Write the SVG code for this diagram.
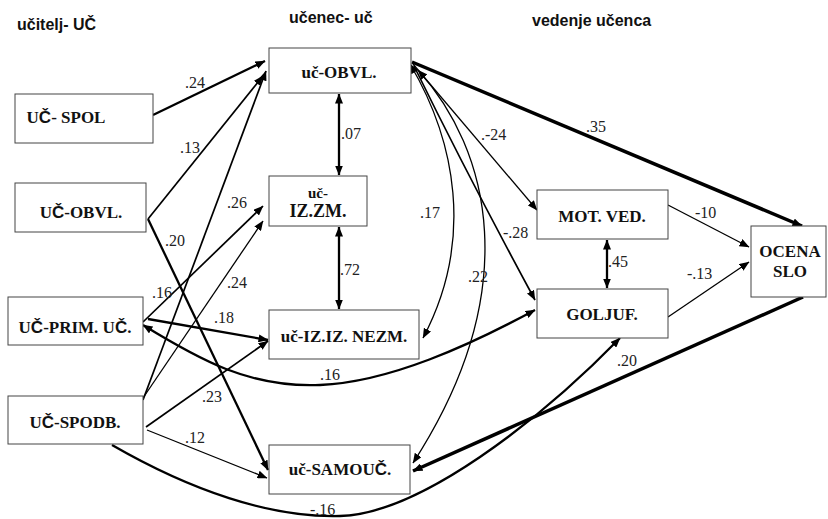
<svg xmlns="http://www.w3.org/2000/svg" width="828" height="519" viewBox="0 0 828 519">
<style>
.bg{fill:#fff}
.box{fill:#fff;stroke:#444;stroke-width:1}
.c{fill:none;stroke:#000;marker-end:url(#ah)}
.b{marker-start:url(#ah)}
.w1{stroke-width:1.3}
.w2{stroke-width:1.7}
.w3{stroke-width:2.3}
.w4{stroke-width:3.5}
</style>
<defs>
<marker id="ah" viewBox="0 0 10 8" refX="9.5" refY="4" markerWidth="10" markerHeight="8" markerUnits="userSpaceOnUse" orient="auto-start-reverse">
<path d="M0,0 L10,4 L0,8 z" fill="#000"/>
</marker>
</defs>
<rect class="bg" x="0" y="0" width="828" height="519"/>

<g id="headers" font-family="Liberation Sans" font-weight="bold" font-size="16" fill="#111">
<text x="17" y="30">učitelj- UČ</text>
<text x="289" y="23">učenec- uč</text>
<text x="532" y="26">vedenje učenca</text>
</g>

<g id="connectors">
<path class="c w3" d="M153,115 L265,61"/>
<path class="c w2" d="M148,219 L263,76"/>
<path class="c w3" d="M148,219 L268,470"/>
<path class="c w2" d="M143,400 L266,71"/>
<path class="c w2" d="M143,322 L263,206"/>
<path class="c w1" d="M143,398 L263,221"/>
<path class="c w3" d="M148,319 L268,340"/>
<path class="c w2" d="M146,427 L268,341"/>
<path class="c w1" d="M147,430 L267,478"/>
<path class="c b w3" d="M143,325 C200,360 250,388 320,385 S470,345 535,310"/>
<path class="c w3" d="M112,445 C190,490 270,518 340,516 C420,514 540,420 620,338"/>
<path class="c w4" d="M803,297 L413,471"/>
<path class="c w4" d="M412,62 L802,226"/>
<path class="c w1" d="M413,64 L537,210"/>
<path class="c w2" d="M414,66 Q470,180 535,300"/>
<path class="c b w1" d="M410,64 C455,140 475,240 423,338"/>
<path class="c b w1" d="M418,70 C490,150 525,290 413,463"/>
<path class="c w1" d="M668,205 L749,247"/>
<path class="c w1" d="M668,317 L749,262"/>
<path class="c b w3" d="M607,240 L607,288"/>
<path class="c b w3" d="M339,94 L339,175"/>
<path class="c b w3" d="M339,227 L339,309"/>
<g font-family="Liberation Serif" font-size="16" fill="#222">
<text x="185" y="88">.24</text>
<text x="180" y="153">.13</text>
<text x="227" y="208">.26</text>
<text x="165" y="246">.20</text>
<text x="152" y="298">.16</text>
<text x="227" y="288">.24</text>
<text x="214" y="323">.18</text>
<text x="202" y="402">.23</text>
<text x="185" y="443">.12</text>
<text x="320" y="380">.16</text>
<text x="310" y="515">-.16</text>
<text x="341" y="139">.07</text>
<text x="340" y="275">.72</text>
<text x="420" y="218">.17</text>
<text x="468" y="282">.22</text>
<text x="481" y="140">.-24</text>
<text x="503" y="238">-.28</text>
<text x="586" y="132">.35</text>
<text x="695" y="218">-10</text>
<text x="687" y="279">-.13</text>
<text x="608" y="267">.45</text>
<text x="617" y="366">.20</text>
</g>
</g>

<g id="nodes" font-family="Liberation Serif" font-weight="bold" font-size="17" fill="#111" text-anchor="middle">
<g id="uc-spol">
<rect class="box" x="15" y="94" width="138" height="49"/>
<text x="66" y="123">U<tspan font-family="Liberation Sans">Č</tspan>- SPOL</text>
</g>
<g id="uc-obvl">
<rect class="box" x="15" y="183" width="131" height="49"/>
<text x="81" y="218">U<tspan font-family="Liberation Sans">Č</tspan>-OBVL.</text>
</g>
<g id="uc-prim">
<rect class="box" x="8" y="297" width="135" height="48"/>
<text x="75" y="333">U<tspan font-family="Liberation Sans">Č</tspan>-PRIM. U<tspan font-family="Liberation Sans">Č</tspan>.</text>
</g>
<g id="uc-spodb">
<rect class="box" x="8" y="396" width="135" height="48"/>
<text x="75" y="428">U<tspan font-family="Liberation Sans">Č</tspan>-SPODB.</text>
</g>
<g id="ucenec-obvl">
<rect class="box" x="269" y="48" width="142" height="45"/>
<text x="339" y="78">uč-OBVL.</text>
</g>
<g id="ucenec-izzm">
<rect class="box" x="269" y="176" width="98" height="50"/>
<text x="318" y="198" font-size="15">uč-</text>
<text x="318" y="217" font-size="18">IZ.ZM.</text>
</g>
<g id="ucenec-nezm">
<rect class="box" x="269" y="310" width="150" height="49"/>
<text x="344" y="342">uč-IZ.IZ. NEZM.</text>
</g>
<g id="ucenec-samouc">
<rect class="box" x="269" y="445" width="141" height="49"/>
<text x="340" y="475">uč-SAMOU<tspan font-family="Liberation Sans">Č</tspan>.</text>
</g>
<g id="mot-ved">
<rect class="box" x="537" y="190" width="131" height="49"/>
<text x="602" y="222">MOT. VED.</text>
</g>
<g id="goljuf">
<rect class="box" x="537" y="289" width="131" height="49"/>
<text x="602" y="320">GOLJUF.</text>
</g>
<g id="ocena">
<rect class="box" x="751" y="226" width="75" height="71"/>
<text x="790" y="257">OCENA</text>
<text x="790" y="277">SLO</text>
</g>
</g>
</svg>
